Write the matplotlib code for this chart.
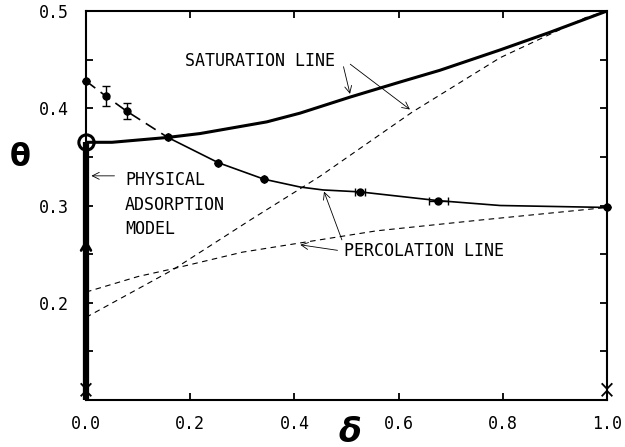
import numpy as np
import matplotlib
matplotlib.use("Agg")
import matplotlib.pyplot as plt

# saturation line (thick solid)
sat_x = [0.0, 0.05, 0.157, 0.219, 0.347, 0.411, 0.507, 0.603, 0.679, 0.795, 0.89, 1.0]
sat_y = [0.365, 0.365, 0.370, 0.374, 0.386, 0.395, 0.4115, 0.427, 0.439, 0.460, 0.478, 0.5]

# percolation line: dashed part then solid part
perc_dash_x = [0.0, 0.038, 0.078, 0.157]
perc_dash_y = [0.428, 0.4125, 0.397, 0.370]
perc_x = [0.157, 0.254, 0.342, 0.411, 0.455, 0.526, 0.676, 0.795, 1.0]
perc_y = [0.370, 0.344, 0.327, 0.319, 0.316, 0.314, 0.305, 0.300, 0.298]

# measured points
pt_x = [0.0, 0.038, 0.078, 0.157, 0.254, 0.342, 0.526, 0.676, 1.0]
pt_y = [0.428, 0.4125, 0.397, 0.370, 0.344, 0.327, 0.314, 0.305, 0.298]
pt_yerr = [0, 0.010, 0.008, 0, 0, 0, 0, 0, 0]
pt_xerr = [0, 0, 0, 0, 0, 0, 0.010, 0.018, 0]

# thin dashed lines
d1_x = [0.0, 0.167, 0.315, 0.449, 0.626, 0.795, 0.958, 1.0]
d1_y = [0.185, 0.234, 0.285, 0.330, 0.396, 0.452, 0.493, 0.5]
d2_x = [0.0, 0.1, 0.167, 0.3, 0.405, 0.558, 0.756, 1.0]
d2_y = [0.211, 0.227, 0.235, 0.252, 0.261, 0.274, 0.285, 0.298]

xticks = [0.0, 0.2, 0.4, 0.6, 0.8, 1.0]
xlabels = ["0.0", "0.2", "0.4", "0.6", "0.8", "1.0"]
yticks = [0.2, 0.3, 0.4, 0.5]
ylabels = ["0.2", "0.3", "0.4", "0.5"]

mono = "DejaVu Sans Mono"

fig = plt.figure(figsize=(6.25, 4.47), dpi=100)
ax = fig.add_axes([0.1376, 0.1051, 0.8336, 0.8703])
ax.set_xlim(0, 1)
ax.set_ylim(0.1, 0.5)

ax.plot(d1_x, d1_y, color="k", lw=0.8, dashes=(5, 4))
ax.plot(d2_x, d2_y, color="k", lw=0.8, dashes=(5, 4))
ax.plot(sat_x, sat_y, color="k", lw=2.2, solid_capstyle="butt")
ax.plot(perc_dash_x, perc_dash_y, color="k", lw=1.2, dashes=(7, 4))
ax.plot(perc_x, perc_y, color="k", lw=1.2)
ax.errorbar(pt_x, pt_y, yerr=pt_yerr, xerr=pt_xerr, fmt="o", color="k",
            ms=5, elinewidth=1.0, capsize=3, capthick=1.0, clip_on=False, zorder=5)

# physical adsorption model: thick bar on the theta axis
ax.plot([0, 0], [0.1, 0.365], color="k", lw=4.5, clip_on=False, solid_capstyle="butt", zorder=6)
ax.annotate("", xy=(0, 0.268), xytext=(0, 0.24),
            arrowprops=dict(arrowstyle="->,head_length=0.6,head_width=0.35", lw=2, color="k"),
            annotation_clip=False, zorder=7)
ax.plot([0], [0.365], marker="o", ms=11, mfc="none", mec="k", mew=2.2, clip_on=False, zorder=7)

# axis break marks
for bx in [0.0, 1.0]:
    ax.plot([bx - 0.009, bx, bx + 0.009], [0.1165, 0.1115, 0.1165], color="k", lw=1.3, clip_on=False, zorder=8)
    ax.plot([bx - 0.009, bx, bx + 0.009], [0.1045, 0.1095, 0.1045], color="k", lw=1.3, clip_on=False, zorder=8)

for s in ax.spines.values():
    s.set_linewidth(1.5)

ax.set_xticks(xticks)
ax.set_xticklabels(xlabels, fontfamily=mono, fontsize=12)
ax.set_yticks(yticks)
ax.set_yticklabels(ylabels, fontfamily=mono, fontsize=12)
ax.set_yticks(np.arange(0.15, 0.5, 0.1), minor=True)
ax.tick_params(which="both", direction="in", top=True, right=True, length=5, width=1.3)
ax.tick_params(axis="x", pad=11)
ax.tick_params(axis="y", pad=12)

arrow_kw = dict(arrowstyle="->,head_length=0.5,head_width=0.25", lw=0.6, color="k")
ax.text(0.19, 0.4485, "SATURATION LINE", fontfamily=mono, fontsize=12, va="center")
ax.annotate("", xy=(0.508, 0.412), xytext=(0.493, 0.4455), arrowprops=arrow_kw)
ax.annotate("", xy=(0.626, 0.397), xytext=(0.503, 0.447), arrowprops=arrow_kw)

ax.text(0.075, 0.335, "PHYSICAL\nADSORPTION\nMODEL", fontfamily=mono, fontsize=12,
        va="top", linespacing=1.45)
ax.annotate("", xy=(0.005, 0.3305), xytext=(0.06, 0.3305), arrowprops=arrow_kw)

ax.text(0.495, 0.2535, "PERCOLATION LINE", fontfamily=mono, fontsize=12, va="center")
ax.annotate("", xy=(0.406, 0.260), xytext=(0.488, 0.2535), arrowprops=arrow_kw)
ax.annotate("", xy=(0.455, 0.317), xytext=(0.493, 0.262), arrowprops=arrow_kw)

fig.text(20 / 625, 1 - 158 / 447, "θ", fontsize=22, fontweight="bold", ha="center", va="center")
fig.text(350 / 625, 1 - 432 / 447, "δ", fontsize=24, fontweight="bold", fontstyle="italic",
         ha="center", va="center")

fig.savefig("out.png", dpi=100)
